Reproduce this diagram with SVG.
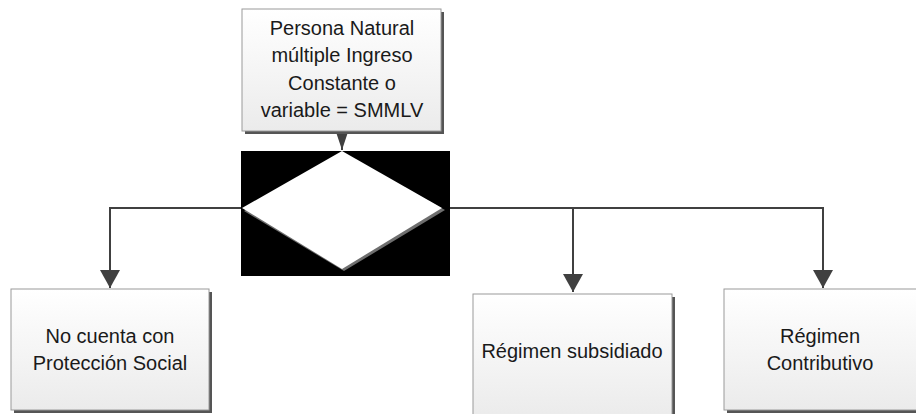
<svg xmlns="http://www.w3.org/2000/svg" width="916" height="414" viewBox="0 0 916 414">
<defs>
<linearGradient id="g" x1="0" y1="0" x2="0" y2="1">
<stop offset="0" stop-color="#ffffff"/>
<stop offset="1" stop-color="#ebebeb"/>
</linearGradient>
<marker id="ah" markerWidth="18" markerHeight="20" refX="18" refY="10" orient="auto" markerUnits="userSpaceOnUse" viewBox="0 0 18 20">
<path d="M0,0 L18,10 L0,20 Z" fill="#404040"/>
</marker>
<marker id="ahs" markerWidth="18" markerHeight="12" refX="18" refY="6" orient="auto" markerUnits="userSpaceOnUse" viewBox="0 0 18 12">
<path d="M0,0 L18,6 L0,12 Z" fill="#404040"/>
</marker>
</defs>
<style>
.box{fill:url(#g);stroke:#9a9a9a;stroke-width:1}
.sh{fill:#555555}
.t{font-family:"Liberation Sans",Arial,sans-serif;font-size:20px;fill:#1a1a1a;text-anchor:middle}
.c{fill:none;stroke:#404040;stroke-width:2}
</style>
<rect x="0" y="0" width="916" height="414" fill="#ffffff"/>
<g id="connectors">
<line class="c" x1="342" y1="132" x2="342" y2="150" marker-end="url(#ahs)"/>
<polyline class="c" points="242,208 110,208 110,288" marker-end="url(#ah)"/>
<polyline class="c" points="442,208 823,208 823,288" marker-end="url(#ah)"/>
<line class="c" x1="573" y1="208" x2="573" y2="292" marker-end="url(#ah)"/>
</g>
<g id="n-top">
<rect class="sh" x="245" y="12" width="199" height="122"/>
<rect class="box" x="242" y="9" width="199" height="122"/>
<text class="t" x="342" y="35">Persona Natural</text>
<text class="t" x="342" y="62">múltiple Ingreso</text>
<text class="t" x="342" y="90">Constante o</text>
<text class="t" x="342" y="117">variable = SMMLV</text>
</g>
<g id="n-decision">
<rect x="241" y="151" width="209" height="125" fill="#000000"/>
<polygon points="343,153 445,210 344,271 244,211" fill="#6e6e6e"/>
<polygon points="342,151 442,208 342,269 242,208" fill="#ffffff"/>
</g>
<g id="n-no">
<rect class="sh" x="14" y="292" width="198" height="121"/>
<rect class="box" x="11" y="289" width="198" height="121"/>
<text class="t" x="110" y="343">No cuenta con</text>
<text class="t" x="110" y="370">Protección Social</text>
</g>
<g id="n-subsidiado">
<rect class="sh" x="476" y="297" width="199" height="121"/>
<rect class="box" x="473" y="294" width="199" height="124"/>
<text class="t" x="572" y="358">Régimen subsidiado</text>
</g>
<g id="n-contributivo">
<rect class="sh" x="727" y="292" width="192" height="121"/>
<rect class="box" x="724" y="289" width="195" height="121"/>
<text class="t" x="820" y="343">Régimen</text>
<text class="t" x="820" y="370">Contributivo</text>
</g>
</svg>
